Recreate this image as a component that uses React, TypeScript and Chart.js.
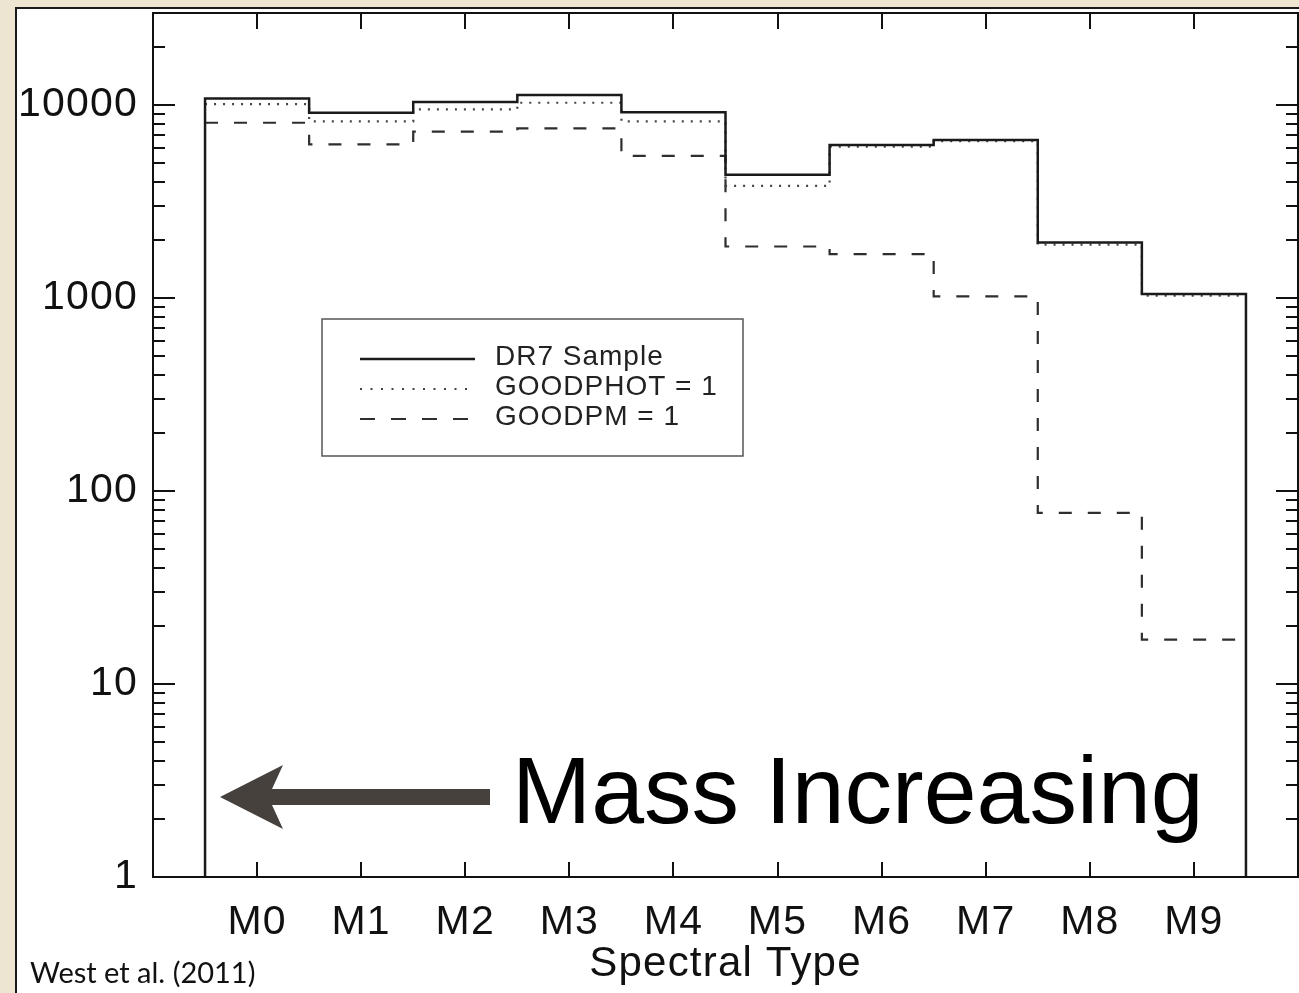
import React, { useEffect, useRef } from "react";
import { Chart, registerables } from "chart.js";

Chart.register(...registerables);

// ---------- data ----------
const CATEGORIES = ["M0", "M1", "M2", "M3", "M4", "M5", "M6", "M7", "M8", "M9"];
const DR7_SAMPLE = [10830, 9120, 10360, 11270, 9170, 4350, 6210, 6590, 1940, 1050];
const GOODPHOT = [10120, 8240, 9500, 10280, 8240, 3810, 6090, 6510, 1890, 1030];
const GOODPM = [8100, 6260, 7280, 7580, 5450, 1850, 1690, 1020, 77, 17];
const SERIES_LABELS = ["DR7 Sample", "GOODPHOT = 1", "GOODPM = 1"];
const Y_MAJOR_TICKS = [1, 10, 100, 1000, 10000];
const Y_MIN = 1;
const Y_MAX = 30000;
const X_TITLE = "Spectral Type";
const ANNOTATION_TEXT = "Mass Increasing";
const CREDIT_TEXT = "West et al. (2011)";

const FONT = "'Liberation Sans', Arial, Helvetica, sans-serif";

function stepPoints(values: number[], closeToBase: boolean) {
  const pts: { x: number; y: number }[] = [];
  if (closeToBase) pts.push({ x: -0.5, y: Y_MIN });
  values.forEach((v, i) => {
    pts.push({ x: i - 0.5, y: v });
    pts.push({ x: i + 0.5, y: v });
  });
  if (closeToBase) pts.push({ x: values.length - 0.5, y: Y_MIN });
  return pts;
}

function allYTicks() {
  const out: number[] = [];
  for (const d of Y_MAJOR_TICKS) {
    for (let k = 1; k <= 9; k++) {
      const v = k * d;
      if (v < Y_MAX) out.push(v);
    }
  }
  return out;
}

const overlayPlugin = {
  id: "overlay",
  beforeDraw(chart: any) {
    (chart.ctx as any).letterSpacing = "1.2px";
  },
  afterDraw(chart: any) {
    const { ctx, chartArea: ca, scales } = chart;
    const xs = scales.x;
    const ys = scales.y;
    ctx.save();
    ctx.strokeStyle = "#111";
    ctx.lineWidth = 2;
    const seg = (x1: number, y1: number, x2: number, y2: number) => {
      ctx.beginPath();
      ctx.moveTo(x1, y1);
      ctx.lineTo(x2, y2);
      ctx.stroke();
    };
    // inward ticks on y (left and right)
    ys.ticks.forEach((t: any) => {
      const py = Math.round(ys.getPixelForValue(t.value));
      const len = Y_MAJOR_TICKS.includes(t.value) ? 22 : 12;
      seg(ca.left, py, ca.left + len, py);
      seg(ca.right, py, ca.right - len, py);
    });
    // inward ticks on x (bottom and top)
    xs.ticks.forEach((t: any) => {
      const px = Math.round(xs.getPixelForValue(t.value));
      seg(px, ca.bottom, px, ca.bottom - 15);
      seg(px, ca.top, px, ca.top + 16);
    });
    // frame
    ctx.strokeRect(ca.left, ca.top, ca.right - ca.left, ca.bottom - ca.top);

    // legend
    const lx = 322, ly = 319, lw = 421, lh = 137;
    ctx.strokeStyle = "#555";
    ctx.lineWidth = 1.5;
    ctx.strokeRect(lx, ly, lw, lh);
    chart.data.datasets.forEach((ds: any, i: number) => {
      const yy = 359 + i * 30;
      ctx.save();
      ctx.strokeStyle = ds.borderColor;
      ctx.lineWidth = ds.borderWidth;
      ctx.setLineDash(ds.legendDash || ds.borderDash || []);
      seg(360, yy, 475, yy);
      ctx.restore();
      ctx.fillStyle = "#222";
      ctx.font = `28px ${FONT}`;
      (ctx as any).letterSpacing = "1px";
      ctx.textAlign = "left";
      ctx.textBaseline = "alphabetic";
      ctx.fillText(ds.label, 495, 365 + i * 30);
    });

    // arrow
    ctx.fillStyle = "#46413d";
    ctx.beginPath();
    ctx.moveTo(220, 797);
    ctx.lineTo(283, 765);
    ctx.lineTo(272, 789);
    ctx.lineTo(490, 789);
    ctx.lineTo(490, 805);
    ctx.lineTo(272, 805);
    ctx.lineTo(283, 829);
    ctx.closePath();
    ctx.fill();

    // Mass Increasing
    (ctx as any).letterSpacing = "0px";
    ctx.fillStyle = "#000";
    ctx.font = `95px ${FONT}`;
    ctx.textAlign = "left";
    ctx.textBaseline = "alphabetic";
    ctx.fillText(ANNOTATION_TEXT, 512, 823);

    // credit
    ctx.fillStyle = "#111";
    ctx.font = `29px Lato, 'Open Sans', sans-serif`;
    ctx.fillText(CREDIT_TEXT, 30, 983);
    ctx.restore();
  },
};

export default function App() {
  const canvasRef = useRef<HTMLCanvasElement | null>(null);

  useEffect(() => {
    const canvas = canvasRef.current;
    if (!canvas) return;
    const yTicks = allYTicks();
    const chart = new Chart(canvas, {
      type: "line",
      data: {
        datasets: [
          {
            label: SERIES_LABELS[0],
            data: stepPoints(DR7_SAMPLE, true),
            borderColor: "#1a1a1a",
            borderWidth: 2.5,
            borderDash: [],
            pointRadius: 0,
            fill: false,
            tension: 0,
          },
          {
            label: SERIES_LABELS[1],
            data: stepPoints(GOODPHOT, false),
            borderColor: "#444",
            borderWidth: 2.2,
            borderDash: [2, 7],
            legendDash: [2, 8.5],
            pointRadius: 0,
            fill: false,
            tension: 0,
          },
          {
            label: SERIES_LABELS[2],
            data: stepPoints(GOODPM, false),
            borderColor: "#2e2e2e",
            borderWidth: 2.2,
            borderDash: [13, 16],
            legendDash: [15, 16],
            pointRadius: 0,
            fill: false,
            tension: 0,
          },
        ],
      },
      options: {
        animation: false,
        responsive: false,
        devicePixelRatio: 1,
        layout: { padding: { left: 0, top: 13, right: 1, bottom: 0 } },
        plugins: { legend: { display: false }, tooltip: { enabled: false } },
        scales: {
          x: {
            type: "linear",
            min: -1,
            max: 10,
            afterBuildTicks: (s: any) => {
              s.ticks = CATEGORIES.map((_, i) => ({ value: i }));
            },
            afterFit: (s: any) => {
              s.height = 116;
              s.paddingLeft = 0;
              s.paddingRight = 0;
            },
            grid: { display: false, drawTicks: false },
            border: { display: false },
            ticks: {
              autoSkip: false,
              maxRotation: 0,
              padding: 21,
              color: "#111",
              font: { family: FONT, size: 41 },
              callback: (v: any) => CATEGORIES[v] ?? "",
            },
            title: {
              display: true,
              text: X_TITLE,
              color: "#111",
              font: { family: FONT, size: 42 },
              padding: { top: 0, bottom: 3 },
            },
          },
          y: {
            type: "logarithmic",
            min: Y_MIN,
            max: Y_MAX,
            afterBuildTicks: (s: any) => {
              s.ticks = yTicks.map((v) => ({ value: v }));
            },
            afterFit: (s: any) => {
              s.width = 153;
              s.paddingTop = 0;
              s.paddingBottom = 0;
            },
            grid: { display: false, drawTicks: false },
            border: { display: false },
            ticks: {
              autoSkip: false,
              padding: 15,
              color: "#111",
              font: { family: FONT, size: 41 },
              callback: (v: any) => (Y_MAJOR_TICKS.includes(v) ? String(v) : ""),
            },
          },
        },
      },
      plugins: [overlayPlugin],
    } as any);
    return () => chart.destroy();
  }, []);

  return (
    <div
      style={{
        position: "fixed",
        left: 0,
        top: 0,
        width: 1299,
        height: 993,
        overflow: "hidden",
        background: "#ede4d2",
      }}
    >
      <div
        style={{
          position: "absolute",
          left: 15,
          top: 7,
          width: 1320,
          height: 1020,
          background: "#fff",
          border: "2px solid #1a1a1a",
          boxSizing: "border-box",
        }}
      />
      <canvas
        ref={canvasRef}
        width={1299}
        height={993}
        style={{ position: "absolute", left: 0, top: 0, width: 1299, height: 993 }}
      />
    </div>
  );
}
